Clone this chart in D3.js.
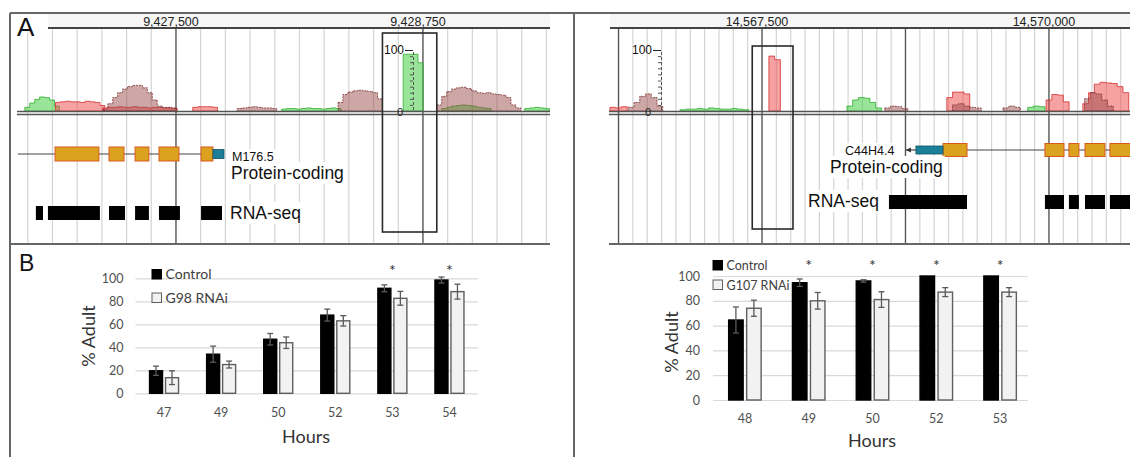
<!DOCTYPE html>
<html>
<head>
<meta charset="utf-8">
<script src="https://cdn.jsdelivr.net/npm/d3@7"></script>
<style>
  body { margin: 0; background: #fff; }
  text { font-family: "Liberation Sans", Arial, sans-serif; }
  .xl text, .xl { font-family: Lato, "Open Sans", sans-serif; }
</style>
</head>
<body>
<svg id="fig" width="1130" height="457"></svg>
<script>
// ---------- panel A : genome browser data ----------
const leftDomain = [9426660, 9429393];
const rightDomain = [14566167, 14570706];
const leftLabels = [9427500, 9428750];
const rightLabels = [14567500, 14570000];

// coverage: start (bp), bin (bp), values in % of track max
const leftCoverage = [
  {kind: "green", start: 9426735, bin: 25, vals: [6, 13, 19, 23, 22, 18, 8]},
  {kind: "red", start: 9426890, bin: 25, vals: [14, 15, 16, 15, 15, 14, 16, 15, 14, 9]},
  {kind: "red", start: 9427130, bin: 25, vals: [5, 6, 6, 7, 6, 6, 7, 6, 6, 5, 6, 6, 5, 5, 4]},
  {kind: "brown", start: 9427130, bin: 25, vals: [3, 12, 22, 30, 36, 40, 42, 42, 38, 30, 18, 8, 6, 6, 5]},
  {kind: "red", start: 9427585, bin: 25, vals: [6, 7, 7, 7, 6]},
  {kind: "brown", start: 9427810, bin: 25, vals: [4, 5, 6, 7, 6, 5, 5, 4]},
  {kind: "green", start: 9428035, bin: 25, vals: [3, 4, 4, 3, 4, 5, 4, 4, 3, 4, 5, 4]},
  {kind: "brown", start: 9428320, bin: 25, vals: [14, 27, 31, 33, 34, 33, 32, 30, 20]},
  {kind: "green", start: 9428650, bin: 25, vals: [93, 93, 93, 79]},
  {kind: "green", start: 9428845, bin: 25, vals: [4, 6, 8, 9, 10, 9, 8, 6, 5, 4]},
  {kind: "brown", start: 9428820, bin: 25, vals: [10, 24, 32, 36, 38, 39, 37, 33, 30, 29, 30, 28, 27, 26, 22, 10, 5]},
  {kind: "green", start: 9429265, bin: 25, vals: [4, 5, 6, 5, 4]}
];
const rightCoverage = [
  {kind: "red", start: 14566175, bin: 50, vals: [6, 5, 7]},
  {kind: "brown", start: 14566335, bin: 50, vals: [6, 14, 24, 28, 22, 8]},
  {kind: "green", start: 14566785, bin: 50, vals: [2, 3, 3, 4, 3, 5, 4, 3, 3, 4, 3, 2]},
  {kind: "red", start: 14567560, bin: 50, vals: [90, 84]},
  {kind: "green", start: 14568240, bin: 50, vals: [8, 18, 22, 21, 14, 5]},
  {kind: "brown", start: 14568570, bin: 50, vals: [5, 8, 7, 4]},
  {kind: "red", start: 14569110, bin: 50, vals: [22, 31, 31, 28]},
  {kind: "brown", start: 14569160, bin: 50, vals: [10, 12, 8, 6, 5]},
  {kind: "brown", start: 14569600, bin: 50, vals: [5, 8, 6]},
  {kind: "green", start: 14569815, bin: 50, vals: [6, 8, 7]},
  {kind: "red", start: 14569975, bin: 50, vals: [18, 27, 26, 15]},
  {kind: "red", start: 14570295, bin: 50, vals: [12, 30, 44, 47, 46, 45, 40, 30]},
  {kind: "brown", start: 14570310, bin: 50, vals: [20, 30, 28, 18, 8]}
];

const leftHighlight = [9428545, 9428820];
const rightHighlight = [14567415, 14567770];

const leftIntron = [9426700, 9427627];
const leftExons = [[9426888, 9427110], [9427161, 9427237], [9427293, 9427363], [9427414, 9427515], [9427627, 9427687]];
const leftUtr = [[9427687, 9427743]];
const leftRnaSeq = [[9426791, 9426827], [9426852, 9427115], [9427161, 9427242], [9427293, 9427363], [9427414, 9427520], [9427627, 9427733]];

const rightIntron = [14569286, 14570706];
const rightExons = [[14569077, 14569286], [14569965, 14570131], [14570174, 14570261], [14570314, 14570488], [14570531, 14570760]];
const rightUtr = [[14568841, 14569077]];
const rightArrow = [14568754, 14568841];
const rightRnaSeq = [[14568606, 14569286], [14569965, 14570131], [14570174, 14570261], [14570314, 14570488], [14570531, 14570760]];

// ---------- panel B : bar chart data ----------
const yTicks = [0, 20, 40, 60, 80, 100];
const leftHours = ["47", "49", "50", "52", "53", "54"];
const leftControl = [19.6, 34, 47, 68, 91.3, 98.5];
const leftControlErr = [4, 7, 5, 5.2, 3, 2.6];
const leftRnai = [13.6, 25, 44, 63, 82.6, 88.4];
const leftRnaiErr = [6, 3, 5, 4.5, 6, 6.5];
const leftSig = ["53", "54"];

const rightHours = ["48", "49", "50", "52", "53"];
const rightControl = [64.5, 94.6, 96, 100, 100];
const rightControlErr = [10.5, 3, 1, 0, 0];
const rightRnai = [74, 80, 81, 87, 87];
const rightRnaiErr = [6.5, 6.7, 6.3, 3.6, 3.6];
const rightSig = ["49", "50", "52", "53"];

// ---------- drawing ----------
const svg = d3.select("#fig");
svg.append("rect").attr("width", 1130).attr("height", 457).attr("fill", "#fff");

const covColors = {
  green: {fill: "rgba(70,205,70,0.55)", stroke: "#2fae2f"},
  red: {fill: "rgba(240,70,70,0.5)", stroke: "#d83030"},
  brown: {fill: "rgba(150,70,70,0.48)", stroke: "#7a2a2a"}
};
const yCov = d3.scaleLinear().domain([0, 100]).range([111, 50]);

function drawBrowser(o) {
  const x = d3.scaleLinear().domain(o.domain).range(o.range);
  const g = svg.append("g");

  // header bar
  g.append("rect").attr("x", o.header[0]).attr("y", 14).attr("width", o.header[1] - o.header[0]).attr("height", 14)
    .attr("fill", "#f6f6f6");
  g.append("line").attr("x1", o.header[0]).attr("x2", o.header[1]).attr("y1", 28).attr("y2", 28)
    .attr("stroke", "#444").attr("stroke-width", 2);

  // grid every 125 bp, darker every 1250 bp
  const first = Math.ceil(o.domain[0] / 125) * 125;
  const grid = d3.range(first, o.domain[1], 125);
  g.selectAll("line.grid").data(grid).join("line")
    .attr("x1", d => x(d)).attr("x2", d => x(d))
    .attr("y1", 29).attr("y2", 244)
    .attr("stroke", d => d % 1250 === 0 ? "#555" : "#d4d4d4")
    .attr("stroke-width", d => d % 1250 === 0 ? 1.4 : 1.2);

  g.selectAll("text.hdr").data(o.labels).join("text")
    .attr("x", d => x(d) - 5).attr("y", 26)
    .attr("text-anchor", "middle").attr("font-size", 12.5).attr("fill", "#222")
    .text(d => d3.format(",")(d));

  // coverage
  const area = d3.area().x(d => x(d[0])).y0(yCov(0)).y1(d => yCov(d[1]));
  o.cov.forEach(t => {
    const pts = [];
    t.vals.forEach((v, i) => pts.push([t.start + i * t.bin, v], [t.start + (i + 1) * t.bin, v]));
    g.append("path").attr("d", area(pts))
      .attr("fill", covColors[t.kind].fill)
      .attr("stroke", covColors[t.kind].stroke).attr("stroke-width", 0.8)
      .attr("stroke-dasharray", t.kind === "brown" ? "2,1" : null);
  });

  // baseline
  [111.5, 114.5].forEach(yy => g.append("line")
    .attr("x1", o.baseX).attr("x2", o.range[1]).attr("y1", yy).attr("y2", yy)
    .attr("stroke", "#555").attr("stroke-width", 1.5));

  // small scale axis
  const ax = g.append("g").attr("transform", `translate(${o.axisX},0)`)
    .call(d3.axisLeft(yCov).tickValues(d3.range(0, 101, 10)).tickSize(3).tickPadding(2)
      .tickFormat(d => d === 100 ? "100" : ""));
  ax.select(".domain").attr("stroke", "#555").attr("stroke-dasharray", "3,2");
  ax.selectAll(".tick line").attr("stroke", "#555");
  ax.selectAll(".tick").filter(d => d === 100).select("line").attr("x2", -8).attr("stroke", "#222");
  ax.selectAll(".tick text").attr("font-size", 12).attr("fill", "#111").attr("x", -9)
    .attr("font-family", "Liberation Sans, Arial, sans-serif");
  g.append("text").attr("x", o.axisX - 13).attr("y", 112).attr("text-anchor", "middle")
    .attr("dominant-baseline", "central").attr("font-size", 11).attr("fill", "#222").text("0");

  // highlight box
  g.append("rect").attr("x", x(o.box[0])).attr("y", o.boxY[0])
    .attr("width", x(o.box[1]) - x(o.box[0])).attr("height", o.boxY[1] - o.boxY[0])
    .attr("fill", "none").attr("stroke", "#2a2a2a").attr("stroke-width", 1.6);

  // gene model
  const gy = o.geneY;
  g.append("line").attr("x1", x(o.intron[0])).attr("x2", x(o.intron[1])).attr("y1", gy).attr("y2", gy)
    .attr("stroke", "#444").attr("stroke-width", 1.2);
  g.selectAll("rect.exon").data(o.exons).join("rect")
    .attr("x", d => x(d[0])).attr("width", d => x(d[1]) - x(d[0]))
    .attr("y", gy - o.exonH / 2).attr("height", o.exonH)
    .attr("fill", "#dba220").attr("stroke", "#d9591e").attr("stroke-width", 1);
  g.selectAll("rect.utr").data(o.utr).join("rect")
    .attr("x", d => x(d[0])).attr("width", d => x(d[1]) - x(d[0]))
    .attr("y", gy - o.exonH / 2 + 2.5).attr("height", o.exonH - 5)
    .attr("fill", "#1c7f99").attr("stroke", "#115566").attr("stroke-width", 0.8);
  if (o.arrow) {
    const ay = gy;
    g.append("line").attr("x1", x(o.arrow[0])).attr("x2", x(o.arrow[1])).attr("y1", ay).attr("y2", ay)
      .attr("stroke", "#333").attr("stroke-width", 1.1);
    const ax0 = x(o.arrow[0]);
    g.append("path").attr("d", `M${ax0},${ay} l5,-2.5 l0,5 z`).attr("fill", "#333");
  }
  g.selectAll("rect.rna").data(o.rna).join("rect")
    .attr("x", d => x(d[0])).attr("width", d => x(d[1]) - x(d[0]))
    .attr("y", o.rnaY).attr("height", 14).attr("fill", "#000");

  // labels with white backing
  o.texts.forEach(t => {
    const tx = g.append("text").attr("x", t.x).attr("y", t.y).attr("font-size", t.size)
      .attr("fill", "#111").text(t.s);
    const b = tx.node().getBBox();
    g.insert("rect", () => tx.node()).attr("x", b.x - 2).attr("y", b.y - 1)
      .attr("width", b.width + 4).attr("height", b.height + 2).attr("fill", "#fff");
  });
  return g;
}

drawBrowser({
  domain: leftDomain, range: [10, 550], header: [48, 550], baseX: 17, labels: leftLabels,
  cov: leftCoverage, axisX: 413, box: leftHighlight, boxY: [33, 232],
  intron: leftIntron, exons: leftExons, utr: leftUtr, geneY: 154, exonH: 14,
  rna: leftRnaSeq, rnaY: 206,
  texts: [
    {s: "M176.5", x: 232, y: 161, size: 12.5},
    {s: "Protein-coding", x: 231, y: 179, size: 17.5},
    {s: "RNA-seq", x: 230, y: 219, size: 17.5}
  ]
});
drawBrowser({
  domain: rightDomain, range: [609, 1130], header: [610, 1130], baseX: 609, labels: rightLabels,
  cov: rightCoverage, axisX: 661, box: rightHighlight, boxY: [46, 229],
  intron: rightIntron, exons: rightExons, utr: rightUtr, arrow: rightArrow, geneY: 150, exonH: 13,
  rna: rightRnaSeq, rnaY: 195,
  texts: [
    {s: "C44H4.4", x: 845, y: 155, size: 12.5},
    {s: "Protein-coding", x: 830, y: 173, size: 17.5},
    {s: "RNA-seq", x: 808, y: 207, size: 17.5}
  ]
});

// frame lines
const frame = svg.append("g").attr("stroke", "#666").attr("stroke-width", 2);
frame.append("line").attr("x1", 10).attr("x2", 1130).attr("y1", 13).attr("y2", 13);
frame.append("line").attr("x1", 10).attr("x2", 10).attr("y1", 13).attr("y2", 457);
frame.append("line").attr("x1", 574).attr("x2", 574).attr("y1", 13).attr("y2", 457);
frame.append("line").attr("x1", 10).attr("x2", 550).attr("y1", 244).attr("y2", 244);
frame.append("line").attr("x1", 609).attr("x2", 1130).attr("y1", 244).attr("y2", 244);

svg.append("text").attr("x", 17).attr("y", 36).attr("font-size", 26).attr("fill", "#111").text("A");
svg.append("text").attr("x", 19).attr("y", 271).attr("font-size", 23).attr("fill", "#111").text("B");

// ---------- bar charts ----------
function drawBars(o) {
  const g = svg.append("g").attr("class", "xl");
  const xs = d3.scaleBand().domain(o.hours).range(o.xr);
  const ys = d3.scaleLinear().domain([0, 100]).range(o.yr);

  const ax = g.append("g").attr("transform", `translate(${o.xr[0]},0)`)
    .call(d3.axisLeft(ys).tickValues(yTicks).tickSize(-(o.gridEnd - o.xr[0])).tickPadding(o.pad));
  ax.select(".domain").remove();
  ax.selectAll(".tick line").attr("stroke", "#d9d9d9").attr("stroke-width", 1.2);
  ax.selectAll(".tick text").attr("font-size", o.tick).attr("fill", "#505050")
    .attr("font-family", "Lato, 'Open Sans', sans-serif");

  const c = d => xs(d) + xs.bandwidth() / 2;
  const series = [
    {vals: o.ctrl, err: o.ctrlErr, off: -o.gap / 2 - o.bw, fill: "#000", stroke: "#000"},
    {vals: o.rnai, err: o.rnaiErr, off: o.gap / 2, fill: "#f2f2f2", stroke: "#5f5f5f"}
  ];
  series.forEach(s => {
    g.selectAll(null).data(o.hours).join("rect")
      .attr("x", d => c(d) + s.off).attr("width", o.bw)
      .attr("y", (d, i) => ys(s.vals[i])).attr("height", (d, i) => ys(0) - ys(s.vals[i]))
      .attr("fill", s.fill).attr("stroke", s.stroke).attr("stroke-width", 1.4);
    const eb = g.selectAll(null).data(o.hours.filter((d, i) => s.err[i] > 0)).join("g")
      .attr("stroke", "#5a5a5a").attr("stroke-width", 1.3);
    const idx = d => o.hours.indexOf(d);
    eb.append("line").attr("x1", d => c(d) + s.off + o.bw / 2).attr("x2", d => c(d) + s.off + o.bw / 2)
      .attr("y1", d => ys(s.vals[idx(d)] + s.err[idx(d)])).attr("y2", d => ys(s.vals[idx(d)] - s.err[idx(d)]));
    [1, -1].forEach(sg => eb.append("line")
      .attr("x1", d => c(d) + s.off + o.bw / 2 - 3).attr("x2", d => c(d) + s.off + o.bw / 2 + 3)
      .attr("y1", d => ys(s.vals[idx(d)] + sg * s.err[idx(d)])).attr("y2", d => ys(s.vals[idx(d)] + sg * s.err[idx(d)])));
  });

  g.selectAll(null).data(o.hours).join("text")
    .attr("x", c).attr("y", o.xlabY).attr("text-anchor", "middle")
    .attr("font-size", o.tick).attr("fill", "#505050").text(d => d);

  g.selectAll(null).data(o.sig).join("text")
    .attr("x", c).attr("y", o.sigY).attr("text-anchor", "middle")
    .attr("font-size", 16).attr("fill", "#333").text("*");

  g.append("text").attr("x", o.hoursX).attr("y", o.hoursY).attr("text-anchor", "middle")
    .attr("font-size", 18).attr("fill", "#333").text("Hours");
  g.append("text").attr("transform", `translate(${o.adultX},${o.adultY}) rotate(-90)`)
    .attr("text-anchor", "middle").attr("dominant-baseline", "central")
    .attr("font-size", 18).attr("fill", "#333").text("% Adult");

  // legend
  const lg = g.append("g");
  o.legend.forEach((name, i) => {
    const ly = o.legY + i * o.legStep;
    lg.append("rect").attr("x", o.legX).attr("y", ly - o.legBox).attr("width", o.legBox).attr("height", o.legBox)
      .attr("fill", i === 0 ? "#000" : "#f2f2f2").attr("stroke", i === 0 ? "#000" : "#5f5f5f").attr("stroke-width", 1);
    lg.append("text").attr("x", o.legX + o.legBox + 4).attr("y", ly).attr("font-size", o.legFont)
      .attr("fill", "#404040").text(name);
  });
}

drawBars({
  hours: leftHours, ctrl: leftControl, ctrlErr: leftControlErr, rnai: leftRnai, rnaiErr: leftRnaiErr,
  sig: leftSig, xr: [135.5, 478], gridEnd: 478, yr: [393.3, 278.3], pad: 12, tick: 12.5,
  bw: 13, gap: 3, xlabY: 417, sigY: 276, hoursX: 306, hoursY: 443, adultX: 88, adultY: 336,
  legend: ["Control", "G98 RNAi"], legX: 152, legY: 279, legStep: 23.5, legBox: 9.5, legFont: 14
});
drawBars({
  hours: rightHours, ctrl: rightControl, ctrlErr: rightControlErr, rnai: rightRnai, rnaiErr: rightRnaiErr,
  sig: rightSig, xr: [713, 1032], gridEnd: 1028, yr: [400, 276], pad: 13, tick: 12.5,
  bw: 14.5, gap: 3.5, xlabY: 423, sigY: 271, hoursX: 872, hoursY: 447, adultX: 671, adultY: 342,
  legend: ["Control", "G107 RNAi"], legX: 713, legY: 270, legStep: 19.5, legBox: 9.5, legFont: 12.5
});
</script>
</body>
</html>
